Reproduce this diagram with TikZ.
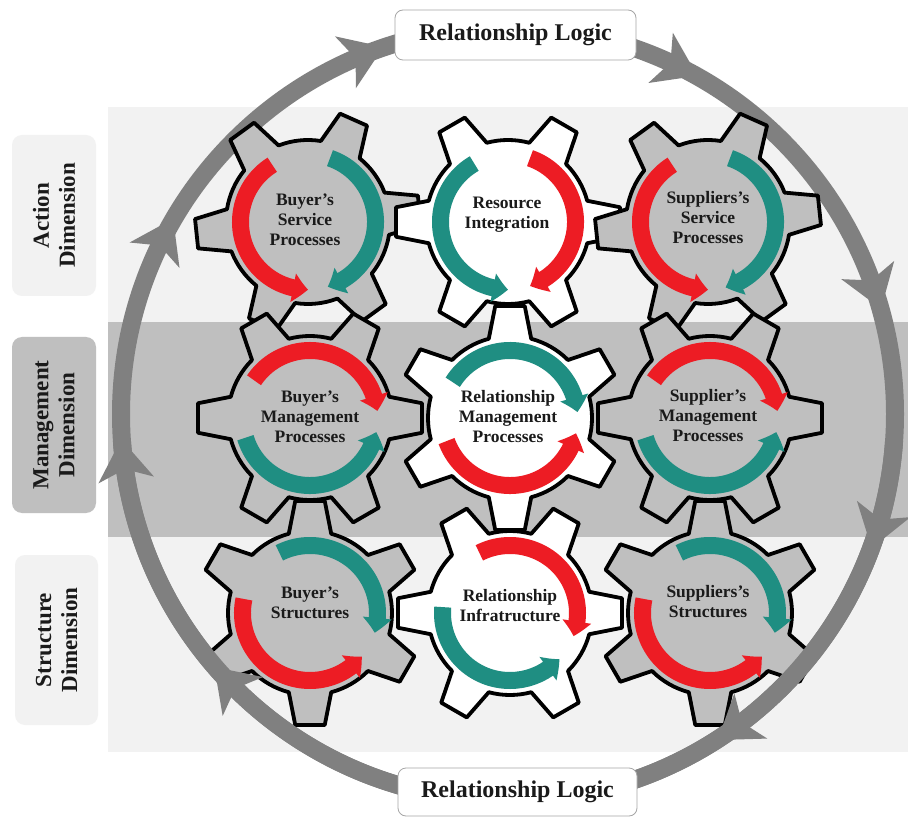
\documentclass[tikz,border=0pt]{standalone}
\usepackage{fontspec}
\setmainfont{Liberation Serif}
\usetikzlibrary{arrows.meta,bending,calc}
\definecolor{bandlight}{HTML}{F2F2F2}
\definecolor{bandmid}{HTML}{BFBFBF}
\definecolor{ringgray}{HTML}{808080}
\definecolor{gred}{HTML}{ED1C24}
\definecolor{gteal}{HTML}{1F8E82}
\definecolor{boxline}{HTML}{A6A6A6}
\definecolor{txt}{HTML}{1A1A1A}
\newcommand\drawgear[3]{%
  \begin{scope}[shift={(#1)}]
    \filldraw[gearline, fill=#3] ({#2-15}:82pt)
      \foreach \k in {0,...,5}{ -- ({#2+60*\k-7.5}:113pt) -- ({#2+60*\k+7.5}:113pt) -- ({#2+60*\k+15}:82pt)
        arc[start angle={#2+60*\k+15}, end angle={#2+60*\k+45}, radius=82pt] } -- cycle;
  \end{scope}}
\newcommand\garc[4]{%
  \draw[garrow, #2] ([shift={(#3:67.5pt)}]#1) arc[start angle=#3, end angle=#4, radius=67.5pt];}
\newcommand\ringhead[1]{%
  \begin{scope}[shift={($(rc)+(#1:387pt)$)}, rotate={#1-90}]
    \fill[ringgray] (-19pt,28pt) -- (22pt,0pt) -- (-19pt,-28pt) -- (-8pt,0pt) -- cycle;
  \end{scope}}
\begin{document}
\begin{tikzpicture}[x=1pt,y=1pt,
  gearline/.style={draw=black, line width=3.8pt, line join=round},
  garrow/.style={line width=17pt, -{Triangle[length=15pt,width=28pt,bend]}},
  ring/.style={draw=ringgray, line width=18pt},
  gtext/.style={align=center, text=txt, font=\fontsize{17.5}{20}\selectfont\bfseries, inner sep=0pt},
  dimbox/.style={rounded corners=10pt, align=center, text=txt, font=\fontsize{23}{26}\selectfont\bfseries, inner sep=0pt, rotate=90},
  logicbox/.style={draw=boxline, line width=0.8pt, fill=white, rounded corners=8pt, font=\fontsize{24}{28}\selectfont\bfseries, text=txt, inner sep=0pt}]
\useasboundingbox (0,0) rectangle (908,-818);
\fill[white] (0,0) rectangle (908,-818);
% bands
\fill[bandlight] (108,-107) rectangle (908,-322);
\fill[bandmid] (108,-322) rectangle (908,-537);
\fill[bandlight] (108,-537) rectangle (908,-752);
% dimension labels
\node[dimbox, fill=bandlight, minimum width=161pt, minimum height=84pt] (dimA) at (54,-215.5) {Action\\Dimension};
\node[dimbox, fill=bandmid, minimum width=176pt, minimum height=84pt] (dimM) at (54,-425) {Management\\Dimension};
\node[dimbox, fill=bandlight, minimum width=170pt, minimum height=83pt] (dimS) at (56.5,-640) {Structure\\Dimension};
% ring
\coordinate (rc) at (508,-414);
\draw[ring] (rc) circle[radius=387pt];
\ringhead{112}
\ringhead{64}
\ringhead{19}
\ringhead{153}
% gear centres
\coordinate (g11) at (308,-222);
\coordinate (g12) at (508,-222);
\coordinate (g13) at (708,-222);
\coordinate (g21) at (310,-418);
\coordinate (g22) at (510,-418);
\coordinate (g23) at (710,-418);
\coordinate (g31) at (310,-613);
\coordinate (g32) at (510,-613);
\coordinate (g33) at (710,-613);
\drawgear{g11}{6}{bandmid}
\drawgear{g12}{0}{white}
\drawgear{g13}{6}{bandmid}
\drawgear{g21}{0}{bandmid}
\drawgear{g22}{30}{white}
\drawgear{g23}{0}{bandmid}
\drawgear{g31}{30}{bandmid}
\drawgear{g32}{0}{white}
\drawgear{g33}{30}{bandmid}
% gear arrows
\garc{g11}{gred}{122}{270}
\garc{g11}{gteal}{71}{-73}
\garc{g12}{gteal}{120}{270}
\garc{g12}{gred}{71}{-71}
\garc{g13}{gred}{122}{270}
\garc{g13}{gteal}{71}{-75}
\garc{g21}{gred}{146}{6}
\garc{g21}{gteal}{197}{348}
\garc{g22}{gteal}{148}{5}
\garc{g22}{gred}{200}{347}
\garc{g23}{gred}{146}{6}
\garc{g23}{gteal}{197}{348}
\garc{g31}{gteal}{117}{-17}
\garc{g31}{gred}{168}{320}
\garc{g32}{gred}{117}{-20}
\garc{g32}{gteal}{175}{317}
\garc{g33}{gteal}{117}{-17}
\garc{g33}{gred}{168}{320}
% gear texts
\node[gtext] (t11) at (305,-220) {Buyer’s\\Service\\Processes};
\node[gtext] (t12) at (507,-215) {Resource\\Integration};
\node[gtext] (t13) at (708,-218) {Suppliers’s\\Service\\Processes};
\node[gtext] (t21) at (310,-417) {Buyer’s\\Management\\Processes};
\node[gtext] (t22) at (508,-417) {Relationship\\Management\\Processes};
\node[gtext] (t23) at (708,-416) {Supplier’s\\Management\\Processes};
\node[gtext] (t31) at (310,-603) {Buyer’s\\Structures};
\node[gtext] (t32) at (510,-606) {Relationship\\Infratructure};
\node[gtext] (t33) at (708,-602) {Suppliers’s\\Structures};
% lower ring part over the gears
\draw[ring] ($(rc)+(-4:387pt)$) arc[start angle=-4, end angle=-176, radius=387pt];
\ringhead{-17}
\ringhead{-54}
\ringhead{-136}
\ringhead{-173}
% relationship logic boxes
\node[logicbox, minimum width=241pt, minimum height=50pt] (rlTop) at (515.5,-35) {Relationship Logic};
\node[logicbox, minimum width=239pt, minimum height=48pt] (rlBot) at (517.5,-792) {Relationship Logic};
\end{tikzpicture}
\end{document}
